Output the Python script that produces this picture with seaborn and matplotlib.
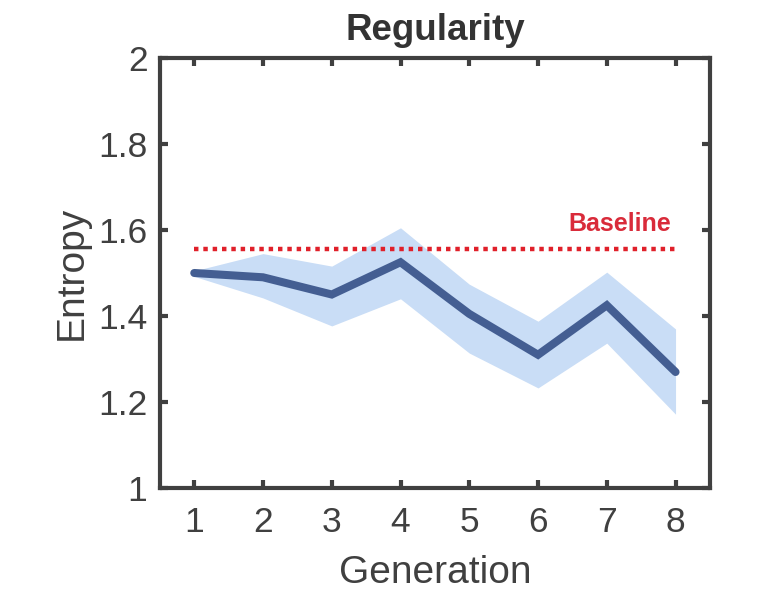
import matplotlib
matplotlib.use("Agg")
import matplotlib.pyplot as plt
import seaborn as sns
import pandas as pd

generation = [1, 2, 3, 4, 5, 6, 7, 8]
entropy_mean = [1.50, 1.49, 1.45, 1.525, 1.405, 1.31, 1.425, 1.27]
entropy_upper = [1.505, 1.545, 1.516, 1.605, 1.474, 1.388, 1.502, 1.37]
entropy_lower = [1.492, 1.442, 1.377, 1.44, 1.314, 1.233, 1.337, 1.172]
baseline_value = 1.555
y_ticks = [1, 1.2, 1.4, 1.6, 1.8, 2]
y_tick_labels = ["1", "1.2", "1.4", "1.6", "1.8", "2"]

sns.set_style("white")
plt.rcParams["font.family"] = ["Liberation Sans", "DejaVu Sans"]

df = pd.DataFrame({"Generation": generation, "Entropy": entropy_mean})

fig = plt.figure(figsize=(7.65, 6.08), dpi=100)
ax = fig.add_axes([0.209, 0.197, 0.719, 0.708])

ax.fill_between(generation, entropy_lower, entropy_upper, color="#c9ddf6", linewidth=0, zorder=1)
sns.lineplot(data=df, x="Generation", y="Entropy", ax=ax, color="#445e92",
             linewidth=5.8, errorbar=None, zorder=3, solid_joinstyle="miter")
ax.plot([generation[0], generation[-1]], [baseline_value, baseline_value], color="#e0202a",
        linestyle=(0, (1, 1.1)), linewidth=3.2, zorder=2)
ax.text(7.93, 1.614, "Baseline", color="#d92b3a", fontsize=18, fontweight="bold",
        ha="right", va="center")

ax.set_xlim(0.5, 8.5)
ax.set_ylim(1, 2)
ax.set_xticks(generation)
ax.set_yticks(y_ticks)
ax.set_yticklabels(y_tick_labels)

for s in ax.spines.values():
    s.set_visible(True)
    s.set_linewidth(3)
    s.set_color("#404040")

ax.tick_params(axis="both", direction="in", length=6, width=3, color="#404040",
               labelsize=25.5, labelcolor="#404040", top=True, right=True,
               bottom=True, left=True)
ax.tick_params(axis="x", pad=13)
ax.tick_params(axis="y", pad=9)

ax.set_xlabel("Generation", fontsize=28, color="#404040", labelpad=11)
ax.set_ylabel("Entropy", fontsize=28, color="#404040", labelpad=6)
ax.set_title("Regularity", fontsize=26.5, fontweight="bold", color="#333333", pad=13)

fig.savefig("out.png", dpi=100)
